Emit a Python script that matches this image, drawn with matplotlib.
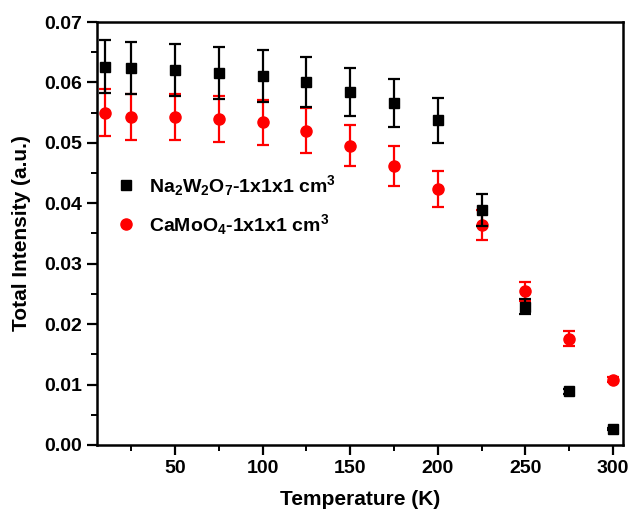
import matplotlib
matplotlib.use("Agg")
import matplotlib.pyplot as plt
from matplotlib.ticker import MultipleLocator
from matplotlib.lines import Line2D

plt.rcParams['font.family'] = ['Liberation Sans', 'DejaVu Sans']
plt.rcParams['font.weight'] = 'bold'
plt.rcParams['mathtext.fontset'] = 'custom'
plt.rcParams['mathtext.rm'] = 'Liberation Sans:bold'
plt.rcParams['mathtext.bf'] = 'Liberation Sans:bold'
plt.rcParams['mathtext.default'] = 'bf'

temperature = [10, 25, 50, 75, 100, 125, 150, 175, 200, 225, 250, 275, 300]
na2w2o7 = [0.0626, 0.0624, 0.0620, 0.0616, 0.0611, 0.0601, 0.0584, 0.0566, 0.0537, 0.0389, 0.0229, 0.0089, 0.0026]
na2w2o7_err = [0.0044, 0.0043, 0.0043, 0.0043, 0.0043, 0.0041, 0.0040, 0.0040, 0.0037, 0.0027, 0.0013, 0.0004, 0.0002]
camoo4 = [0.0550, 0.0543, 0.0543, 0.0539, 0.0534, 0.0520, 0.0495, 0.0462, 0.0424, 0.0364, 0.0254, 0.0176, 0.0108]
camoo4_err = [0.0039, 0.0038, 0.0038, 0.0038, 0.0037, 0.0037, 0.0034, 0.0033, 0.0030, 0.0025, 0.0016, 0.0013, 0.0004]
labels = [r'Na$_2$W$_2$O$_7$-1x1x1 cm$^3$', r'CaMoO$_4$-1x1x1 cm$^3$']

fig = plt.figure(figsize=(6.31, 5.13), dpi=100)
ax = fig.add_axes([0.1537, 0.1326, 0.8336, 0.8245])

ax.errorbar(temperature, na2w2o7, yerr=na2w2o7_err, fmt='s', color='black',
            ecolor='black', markersize=7, capsize=4, elinewidth=1.6, capthick=1.6,
            zorder=3)
ax.errorbar(temperature, camoo4, yerr=camoo4_err, fmt='o', color='#ff0000',
            ecolor='#ff0000', markersize=8, capsize=4, elinewidth=1.6, capthick=1.6,
            zorder=2)

ax.set_xlim(5.5, 305.7)
ax.set_ylim(0, 0.07)
ax.xaxis.set_major_locator(MultipleLocator(50))
ax.xaxis.set_minor_locator(MultipleLocator(25))
ax.yaxis.set_major_locator(MultipleLocator(0.01))
ax.yaxis.set_minor_locator(MultipleLocator(0.005))
ax.yaxis.set_major_formatter(matplotlib.ticker.FormatStrFormatter('%.2f'))

ax.tick_params(which='major', direction='out', length=7, width=1.6, labelsize=14)
ax.tick_params(which='minor', direction='out', length=4, width=1.4)
for s in ax.spines.values():
    s.set_linewidth(1.8)

ax.set_xlabel('Temperature (K)', fontsize=15, fontweight='bold', labelpad=10)
ax.set_ylabel('Total Intensity (a.u.)', fontsize=15, fontweight='bold', labelpad=10)

handles = [Line2D([], [], marker='s', color='black', linestyle='none', markersize=7),
           Line2D([], [], marker='o', color='#ff0000', linestyle='none', markersize=8)]
ax.legend(handles, labels, loc='upper left', bbox_to_anchor=(0.0, 0.685), frameon=False,
          fontsize=14, handletextpad=0.6, labelspacing=0.75, handlelength=1.2)

fig.savefig('out.png', dpi=100)
